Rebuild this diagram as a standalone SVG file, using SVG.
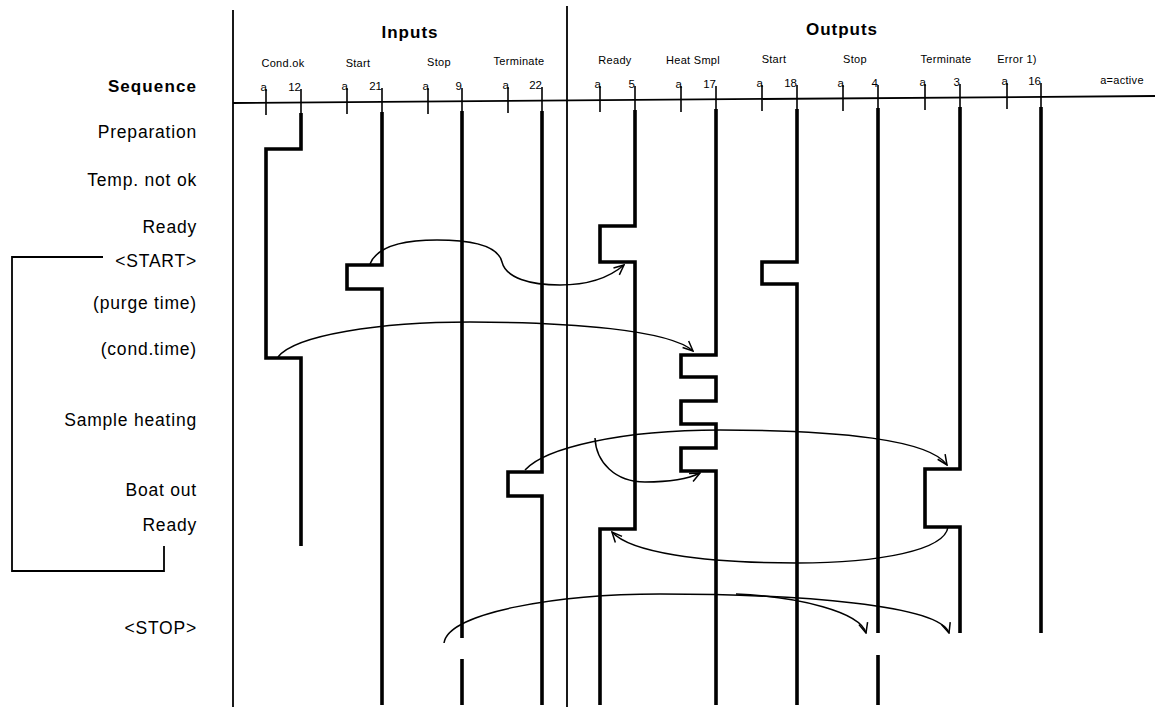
<svg xmlns="http://www.w3.org/2000/svg" width="1155" height="707" viewBox="0 0 1155 707">
<style>
.bg{fill:#fff}
.thin{stroke:#000;stroke-width:1.8;fill:none}
.tick{stroke:#000;stroke-width:1.6;fill:none}
.sig{stroke:#000;stroke-width:3.6;fill:none;stroke-linejoin:miter;stroke-linecap:butt}
.arc{stroke:#000;stroke-width:1.5;fill:none;marker-end:url(#ah)}
.hd{font-family:"Liberation Sans",Arial,sans-serif;font-size:17px;font-weight:bold;letter-spacing:1px;text-anchor:middle;fill:#000}
.cl{font-family:"Liberation Sans",Arial,sans-serif;font-size:11px;text-anchor:middle;fill:#000;letter-spacing:0.3px}
.sm{font-family:"Liberation Sans",Arial,sans-serif;font-size:11.5px;text-anchor:end;fill:#000}
.sq{font-family:"Liberation Sans",Arial,sans-serif;font-size:17.5px;text-anchor:end;fill:#000;letter-spacing:0.8px}
.sqb{font-family:"Liberation Sans",Arial,sans-serif;font-size:17px;font-weight:bold;text-anchor:end;fill:#000;letter-spacing:1.1px}
</style>
<defs>
<marker id="ah" viewBox="0 0 12 12" refX="11" refY="6" markerWidth="12" markerHeight="12" markerUnits="userSpaceOnUse" orient="auto">
<path d="M1,1.5 L11,6 L1,10.5" stroke="#000" stroke-width="1.5" fill="none"/>
</marker>
</defs>
<rect class="bg" x="0" y="0" width="1155" height="707"/>

<g id="frame">
<line class="thin" x1="233" y1="10" x2="233" y2="707"/>
<line class="thin" x1="567" y1="6" x2="567" y2="707"/>
<line class="thin" x1="233" y1="103" x2="1155" y2="96"/>
<text class="hd" x="410" y="38">Inputs</text>
<text class="hd" x="842" y="35">Outputs</text>
<text class="cl" x="1122" y="84">a=active</text>
</g>

<g id="sequence-labels">
<text class="sqb" x="197" y="92">Sequence</text>
<text class="sq" x="197" y="138">Preparation</text>
<text class="sq" x="197" y="186">Temp. not ok</text>
<text class="sq" x="197" y="233">Ready</text>
<text class="sq" x="197" y="267">&lt;START&gt;</text>
<text class="sq" x="197" y="309">(purge time)</text>
<text class="sq" x="197" y="355">(cond.time)</text>
<text class="sq" x="197" y="426">Sample heating</text>
<text class="sq" x="197" y="496">Boat out</text>
<text class="sq" x="197" y="531">Ready</text>
<text class="sq" x="197" y="634">&lt;STOP&gt;</text>
<path class="thin" d="M103,257 H12 V571 H164 V546"/>
</g>

<g id="in-condok">
<text class="cl" x="283" y="67">Cond.ok</text>
<text class="sm" x="267" y="91">a</text>
<text class="sm" x="301" y="91">12</text>
<line class="tick" x1="266" y1="89" x2="266" y2="115"/>
<line class="tick" x1="301" y1="89" x2="301" y2="113"/>
<path class="sig" d="M301,113 V149 H266 V358 H301 V546"/>
</g>

<g id="in-start">
<text class="cl" x="358" y="67">Start</text>
<text class="sm" x="348" y="90">a</text>
<text class="sm" x="382" y="90">21</text>
<line class="tick" x1="347" y1="88" x2="347" y2="114"/>
<line class="tick" x1="382" y1="88" x2="382" y2="112"/>
<path class="sig" d="M382,112 V265 H347 V289 H382 V705"/>
</g>

<g id="in-stop">
<text class="cl" x="439" y="66">Stop</text>
<text class="sm" x="429" y="90">a</text>
<text class="sm" x="462" y="90">9</text>
<line class="tick" x1="428" y1="88" x2="428" y2="114"/>
<line class="tick" x1="462" y1="88" x2="462" y2="111"/>
<path class="sig" d="M462,111 V638 M462,659 V705"/>
</g>

<g id="in-terminate">
<text class="cl" x="519" y="65">Terminate</text>
<text class="sm" x="509" y="89">a</text>
<text class="sm" x="542" y="89">22</text>
<line class="tick" x1="508" y1="87" x2="508" y2="113"/>
<line class="tick" x1="542" y1="87" x2="542" y2="111"/>
<path class="sig" d="M542,111 V472 H508 V496 H542 V705"/>
</g>

<g id="out-ready">
<text class="cl" x="615" y="64">Ready</text>
<text class="sm" x="601" y="88">a</text>
<text class="sm" x="635" y="88">5</text>
<line class="tick" x1="600" y1="86" x2="600" y2="112"/>
<line class="tick" x1="635" y1="86" x2="635" y2="110"/>
<path class="sig" d="M635,110 V226 H600 V262 H635 V529 H600 V705"/>
</g>

<g id="out-heatsmpl">
<text class="cl" x="693" y="64">Heat Smpl</text>
<text class="sm" x="682" y="88">a</text>
<text class="sm" x="716" y="88">17</text>
<line class="tick" x1="681" y1="86" x2="681" y2="112"/>
<line class="tick" x1="716" y1="86" x2="716" y2="109"/>
<path class="sig" d="M716,109 V355 H681 V377 H716 V401 H681 V424 H716 V448 H681 V471 H716 V705"/>
</g>

<g id="out-start">
<text class="cl" x="774" y="63">Start</text>
<text class="sm" x="763" y="87">a</text>
<text class="sm" x="797" y="87">18</text>
<line class="tick" x1="762" y1="85" x2="762" y2="111"/>
<line class="tick" x1="797" y1="85" x2="797" y2="109"/>
<path class="sig" d="M797,109 V262 H762 V284 H797 V705"/>
</g>

<g id="out-stop">
<text class="cl" x="855" y="63">Stop</text>
<text class="sm" x="844" y="87">a</text>
<text class="sm" x="878" y="87">4</text>
<line class="tick" x1="843" y1="85" x2="843" y2="111"/>
<line class="tick" x1="878" y1="85" x2="878" y2="108"/>
<path class="sig" d="M878,108 V633 M878,655 V705"/>
</g>

<g id="out-terminate">
<text class="cl" x="946" y="63">Terminate</text>
<text class="sm" x="926" y="86">a</text>
<text class="sm" x="960" y="86">3</text>
<line class="tick" x1="925" y1="84" x2="925" y2="110"/>
<line class="tick" x1="960" y1="84" x2="960" y2="107"/>
<path class="sig" d="M960,107 V469 H925 V527 H960 V633"/>
</g>

<g id="out-error">
<text class="cl" x="1017" y="63">Error 1)</text>
<text class="sm" x="1008" y="85">a</text>
<text class="sm" x="1041" y="85">16</text>
<line class="tick" x1="1007" y1="83" x2="1007" y2="109"/>
<line class="tick" x1="1041" y1="83" x2="1041" y2="107"/>
<path class="sig" d="M1041,107 V633"/>
</g>

<g id="connectors">
<path class="arc" d="M370,264 C378,244 410,240 437,240 C470,240 498,245 502,262 C506,278 530,285 560,285 C590,285 610,277 624,265"/>
<path class="arc" d="M278,357 C295,335 380,322 470,322 C570,322 670,330 693,351"/>
<path class="arc" d="M525,470 C545,448 620,430 720,430 C840,430 930,440 947,465"/>
<path class="arc" d="M595,438 C596,462 615,482 645,482 C670,482 690,478 700,473"/>
<path class="arc" d="M948,527 C945,550 880,563 797,563 C700,563 630,552 612,532"/>
<path class="arc" d="M444,643 C448,612 560,594 660,594 C800,594 940,605 949,633"/>
<path class="arc" d="M736,594 C800,597 860,612 866,633"/>
</g>
</svg>
